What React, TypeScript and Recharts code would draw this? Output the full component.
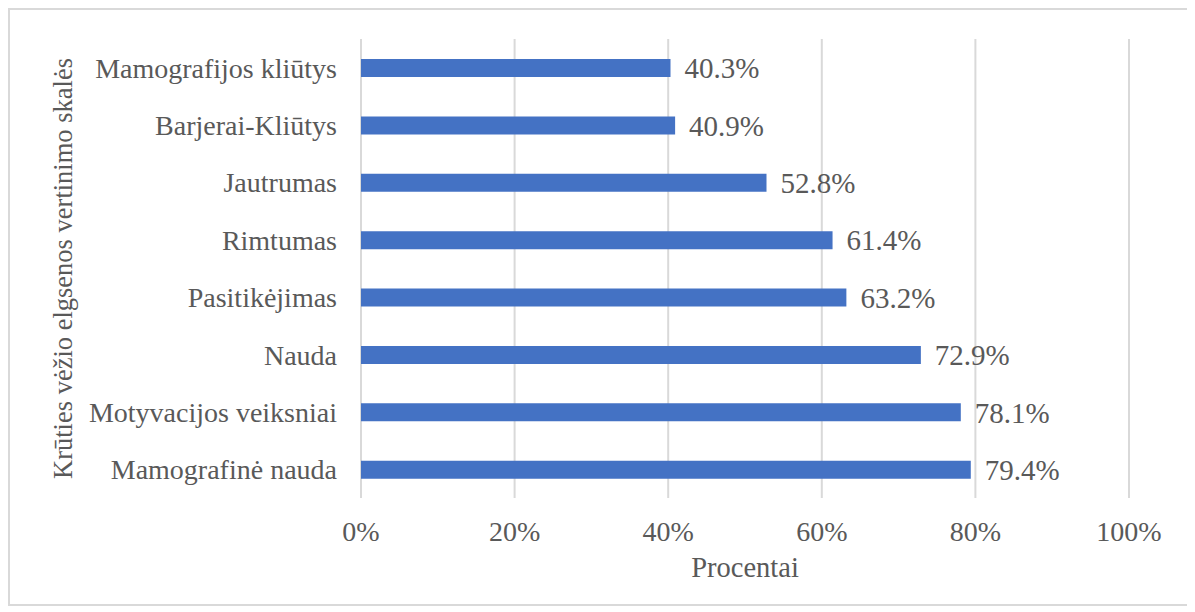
import React from 'react';
import { BarChart, Bar, XAxis, YAxis, CartesianGrid, LabelList, Label } from 'recharts';

const categories = [
  'Mamografijos kliūtys',
  'Barjerai-Kliūtys',
  'Jautrumas',
  'Rimtumas',
  'Pasitikėjimas',
  'Nauda',
  'Motyvacijos veiksniai',
  'Mamografinė nauda',
];
const values = [40.3, 40.9, 52.8, 61.4, 63.2, 72.9, 78.1, 79.4];
const xTicks = [0, 20, 40, 60, 80, 100];
const xTitle = 'Procentai';
const yTitle = 'Krūties vėžio elgsenos vertinimo skalės';

const data = categories.map((name, i) => ({ name, value: values[i] }));

const FONT = 'Liberation Serif';
const TEXT = '#595959';

const XTitle = (props: any) => {
  const vb = props.viewBox || {};
  return (
    <text x={vb.x + vb.width / 2} y={vb.y + 79} textAnchor="middle" fontFamily={FONT} fontSize={28.5} fill={TEXT}>
      {xTitle}
    </text>
  );
};

const YTitle = (props: any) => {
  const vb = props.viewBox || {};
  const cx = vb.x + 53;
  const cy = vb.y + vb.height / 2;
  return (
    <text
      x={cx}
      y={cy}
      transform={`rotate(-90, ${cx}, ${cy})`}
      textAnchor="middle"
      dominantBaseline="central"
      fontFamily={FONT}
      fontSize={26.5}
      fill={TEXT}
    >
      {yTitle}
    </text>
  );
};

export default function App() {
  return (
    <div
      style={{
        width: 1184,
        height: 598,
        border: '2px solid #d9d9d9',
        boxSizing: 'border-box',
        background: '#fff',
        fontFamily: FONT,
      }}
    >
      <BarChart
        width={1180}
        height={594}
        data={data}
        layout="vertical"
        margin={{ top: 29, right: 61, left: 0, bottom: 26 }}
      >
        <CartesianGrid horizontal={false} vertical={true} stroke="#d9d9d9" strokeWidth={2} />
        <XAxis
          type="number"
          domain={[0, 100]}
          ticks={xTicks}
          tickFormatter={(v: number) => `${v}%`}
          axisLine={false}
          tickLine={false}
          tickSize={0}
          tickMargin={23}
          height={80}
          tick={{ fill: TEXT, fontSize: 28, fontFamily: FONT }}
          interval={0}
        >
          <Label content={<XTitle />} />
        </XAxis>
        <YAxis
          type="category"
          dataKey="name"
          width={351}
          axisLine={false}
          tickLine={false}
          tickSize={0}
          tickMargin={24}
          interval={0}
          tick={{ fill: TEXT, fontSize: 28, fontFamily: FONT }}
        >
          <Label content={<YTitle />} />
        </YAxis>
        <Bar dataKey="value" fill="#4472C4" barSize={18} isAnimationActive={false}>
          <LabelList
            dataKey="value"
            position="right"
            offset={14}
            formatter={(v: any) => `${Number(v).toFixed(1)}%`}
            fill={TEXT}
            fontSize={29}
            fontFamily={FONT}
          />
        </Bar>
      </BarChart>
    </div>
  );
}
